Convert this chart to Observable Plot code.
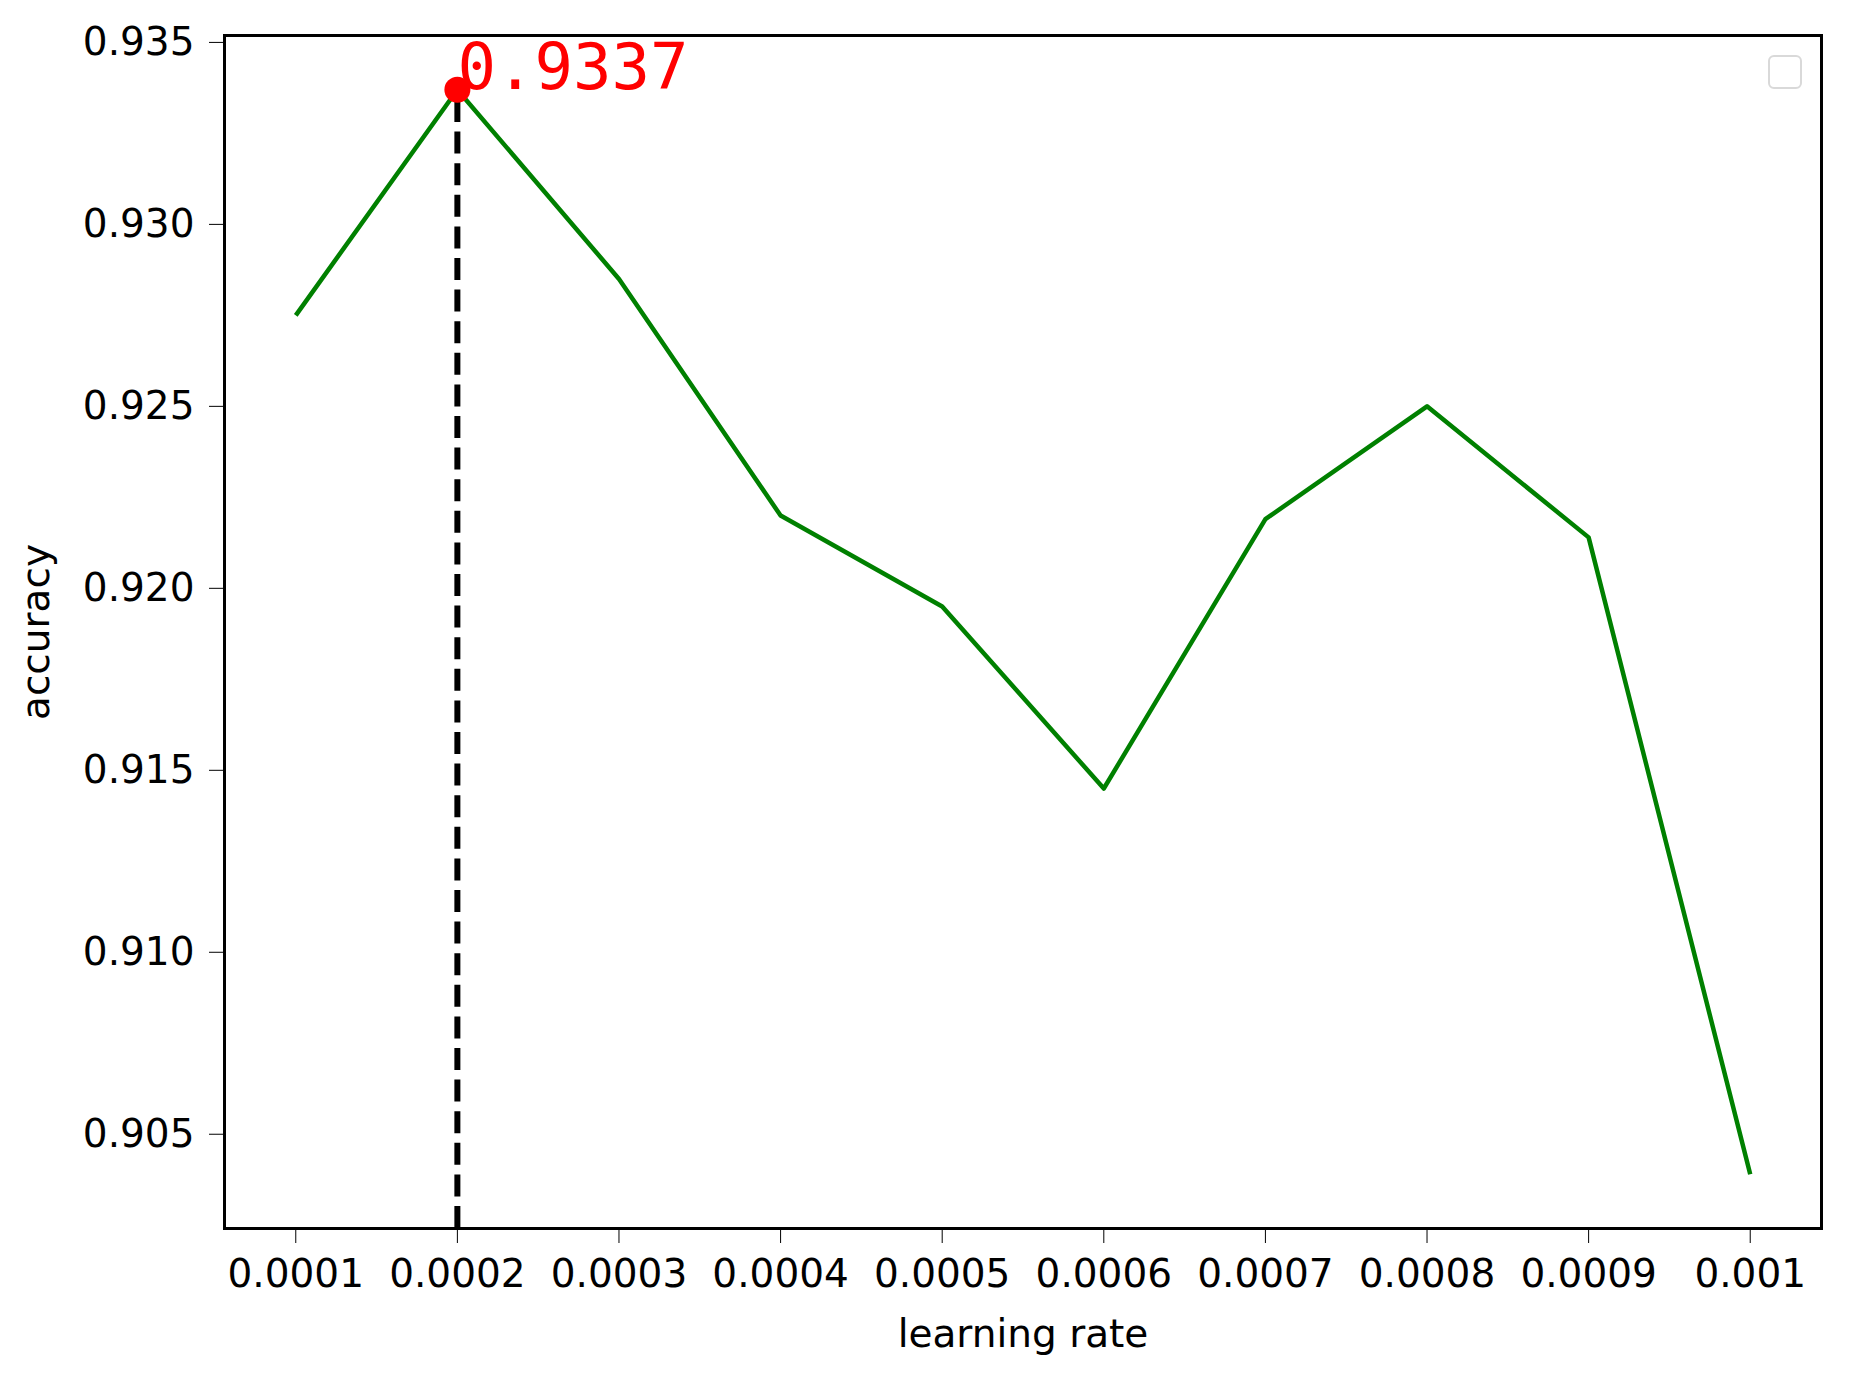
<!DOCTYPE html>
<html>
<head>
<meta charset="utf-8">
<script src="https://cdn.jsdelivr.net/npm/d3@7"></script>
<script src="https://cdn.jsdelivr.net/npm/@observablehq/plot@0.6"></script>
<style>
  html, body { margin: 0; padding: 0; background: #ffffff; }
  #wrap { position: relative; width: 1850px; height: 1374px; }
  #legend { position: absolute; left: 1768px; top: 55px; width: 30px; height: 30px;
            border: 2px solid #d9d9d9; border-radius: 6px; background: #ffffff; }
</style>
</head>
<body>
<div id="wrap"><div id="legend"></div></div>
<script>
// ---- data ----
const learningRates = [0.0001, 0.0002, 0.0003, 0.0004, 0.0005, 0.0006, 0.0007, 0.0008, 0.0009, 0.001];
const accuracy = [0.9275, 0.9337, 0.9285, 0.9220, 0.9195, 0.9145, 0.9219, 0.9250, 0.9214, 0.9039];
const xTickLabels = ["0.0001", "0.0002", "0.0003", "0.0004", "0.0005", "0.0006", "0.0007", "0.0008", "0.0009", "0.001"];
const yTicks = [0.905, 0.910, 0.915, 0.920, 0.925, 0.930, 0.935];
const xLabel = "learning rate";
const yLabel = "accuracy";

// ---- derived ----
const rows = learningRates.map((lr, i) => ({lr, acc: accuracy[i]}));
const bestIdx = accuracy.indexOf(d3.max(accuracy));
const best = rows[bestIdx];

function padded(ext, frac) {
  const m = (ext[1] - ext[0]) * frac;
  return [ext[0] - m, ext[1] + m];
}
const xDomain = padded(d3.extent(learningRates), 0.049);
const yDomain = padded(d3.extent(accuracy), 0.05);

const chart = Plot.plot({
  width: 1850,
  height: 1374,
  marginLeft: 224,
  marginRight: 29,
  marginTop: 35,
  marginBottom: 146,
  style: {fontFamily: "'DejaVu Sans', sans-serif", fontSize: "39px", color: "#000000", background: "#ffffff"},
  x: {
    domain: xDomain,
    ticks: learningRates,
    tickFormat: (d) => xTickLabels[learningRates.indexOf(d)],
    tickSize: 15,
    tickPadding: 16,
    label: xLabel,
    labelAnchor: "center",
    labelArrow: "none",
    labelOffset: 118
  },
  y: {
    domain: yDomain,
    ticks: yTicks,
    tickFormat: d3.format(".3f"),
    tickSize: 15,
    tickPadding: 15,
    label: yLabel,
    labelAnchor: "center",
    labelArrow: "none",
    labelOffset: 203
  },
  marks: [
    Plot.line(rows, {x: "lr", y: "acc", stroke: "green", strokeWidth: 4.5, strokeLinejoin: "round", strokeLinecap: "butt"}),
    Plot.ruleX([best], {x: "lr", y1: () => yDomain[0], y2: "acc", stroke: "black", strokeWidth: 6, strokeDasharray: "22,9.6"}),
    Plot.dot([best], {x: "lr", y: "acc", r: 13, fill: "red", stroke: "none"}),
    Plot.text([best], {x: "lr", y: "acc", text: (d) => d.acc.toFixed(4), fill: "red", textAnchor: "start", lineAnchor: "bottom",
      fontFamily: "'DejaVu Sans Mono', monospace", fontSize: 64, dy: -1}),
    Plot.frame({stroke: "black", strokeWidth: 3})
  ]
});
document.getElementById("wrap").prepend(chart);
</script>
</body>
</html>
